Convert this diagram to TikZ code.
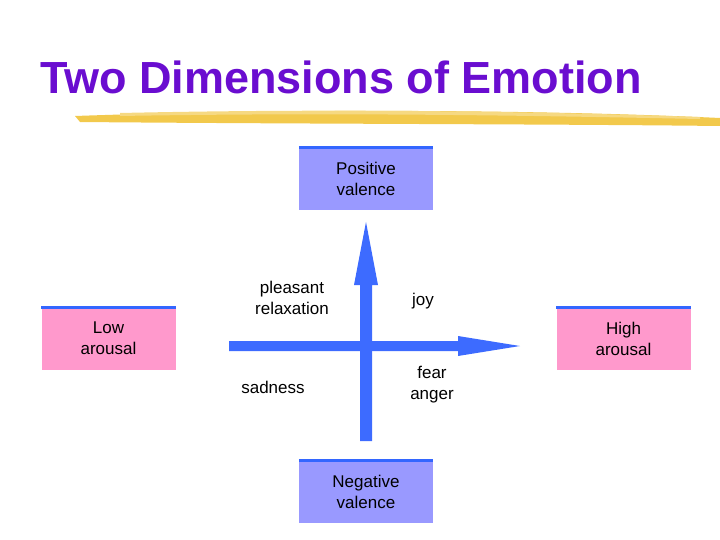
\documentclass[tikz,border=0pt]{standalone}
\usepackage{fontspec}
\setmainfont{Liberation Sans}
\definecolor{ttl}{HTML}{6A0DD0}
\definecolor{arr}{HTML}{3D6BFF}
\definecolor{lav}{HTML}{9999FF}
\definecolor{pnk}{HTML}{FF99CC}
\definecolor{edge}{HTML}{3366FF}
\definecolor{brush}{HTML}{F2C94C}
\begin{document}
\begin{tikzpicture}[x=1pt,y=-1pt,
  lbl/.style={font=\fontsize{17}{21}\selectfont,align=center},
  box/.style={minimum width=134pt,minimum height=62pt,inner sep=0pt,lbl}]
\useasboundingbox (0,0) rectangle (720,540);
% title
\node[anchor=base west,inner sep=0pt,text=ttl] (title) at (40,94) {\fontsize{45}{50}\selectfont\bfseries Two Dimensions of Emotion};
% brush
\fill[brush] (75,116) .. controls (300,108) and (550,110) .. (720,118) -- (720,126) .. controls (550,124) and (300,124) .. (80,122) -- cycle;
\fill[brush!70!white] (120,113) .. controls (350,108) and (550,112) .. (700,117) -- (700,119) .. controls (550,116) and (350,112) .. (120,116) -- cycle;
% boxes
\node[box,fill=lav] (pos) at (366,179) {Positive\\valence};
\node[box,fill=lav] (neg) at (366,491.5) {Negative\\valence};
\node[box,fill=pnk] (low) at (108.5,338.5) {Low\\arousal};
\node[box,fill=pnk] (high) at (623.5,338.5) {High\\arousal};
\foreach \b in {pos,neg,low,high} \draw[edge,line width=3pt] (\b.north west) -- (\b.north east);
% arrows
\coordinate (vb) at (366,441);
\coordinate (vt) at (366,222);
\coordinate (hl) at (229,346);
\coordinate (hr) at (520,346);
\fill[arr] ([xshift=-6pt]vb) -- ([xshift=-6pt,yshift=-63pt]vt) -- ([xshift=-12pt,yshift=-63pt]vt) -- (vt) -- ([xshift=12pt,yshift=-63pt]vt) -- ([xshift=6pt,yshift=-63pt]vt) -- ([xshift=6pt]vb) -- cycle;
\fill[arr] ([yshift=-5pt]hl) -- ([xshift=-62pt,yshift=-5pt]hr) -- ([xshift=-62pt,yshift=-10pt]hr) -- (hr) -- ([xshift=-62pt,yshift=10pt]hr) -- ([xshift=-62pt,yshift=5pt]hr) -- ([yshift=5pt]hl) -- cycle;
% labels
\node[lbl] (pr) at (292,298) {pleasant\\relaxation};
\node[lbl] (joy) at (423,301) {joy};
\node[lbl] (sad) at (273,387) {sadness};
\node[lbl] (fa) at (432,385) {fear\\anger};
\end{tikzpicture}
\end{document}
